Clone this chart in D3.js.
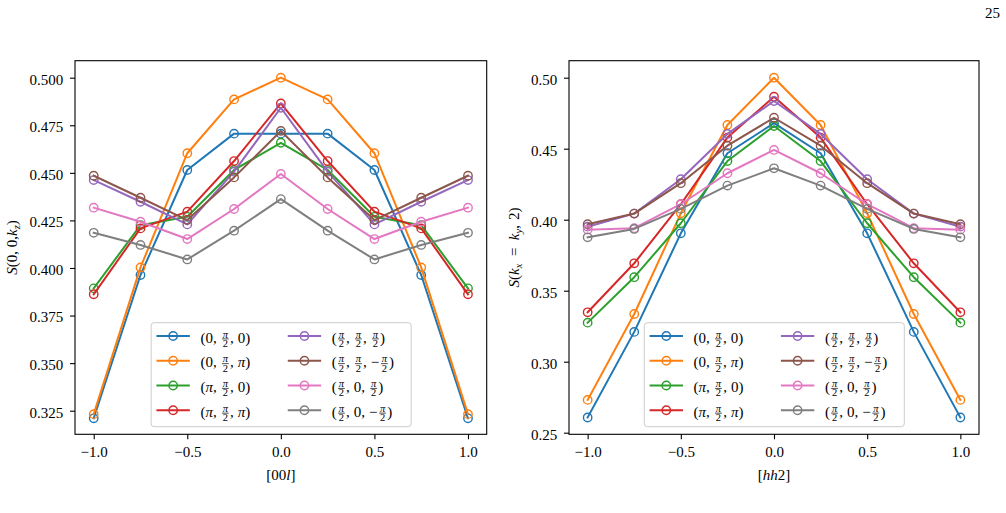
<!DOCTYPE html>
<html>
<head>
<meta charset="utf-8">
<script src="https://cdn.jsdelivr.net/npm/d3@7"></script>
<style>
  html, body { margin: 0; padding: 0; background: #fff; }
  svg text { font-family: "Liberation Serif", "DejaVu Serif", serif; fill: #000; }
</style>
</head>
<body>
<svg id="chart" width="1006" height="513"></svg>
<script>
// ---------------- data ----------------
const xValues = [-1.0, -0.75, -0.5, -0.25, 0.0, 0.25, 0.5, 0.75, 1.0];
const xTicks = [-1.0, -0.5, 0.0, 0.5, 1.0];
const leftYTicks = [0.325, 0.350, 0.375, 0.400, 0.425, 0.450, 0.475, 0.500];
const rightYTicks = [0.25, 0.30, 0.35, 0.40, 0.45, 0.50];

// legend labels: parts of the tuple; "f" = pi/2, "-f" = -pi/2, "π" = pi
const seriesLabels = [
  ["0", "f", "0"],
  ["0", "f", "π"],
  ["π", "f", "0"],
  ["π", "f", "π"],
  ["f", "f", "f"],
  ["f", "f", "-f"],
  ["f", "0", "f"],
  ["f", "0", "-f"]
];
const seriesColors = ["#1f77b4", "#ff7f0e", "#2ca02c", "#d62728", "#9467bd", "#8c564b", "#e377c2", "#7f7f7f"];

// left panel: S(0,0,kz) along [00l]
const left0 = [0.3210, 0.3963, 0.4515, 0.4706, 0.4706, 0.4706, 0.4515, 0.3963, 0.3210];
const left1 = [0.3232, 0.4003, 0.4603, 0.4886, 0.5000, 0.4886, 0.4603, 0.4003, 0.3232];
const left2 = [0.3893, 0.4225, 0.4269, 0.4515, 0.4658, 0.4515, 0.4269, 0.4225, 0.3893];
const left3 = [0.3862, 0.4208, 0.4296, 0.4562, 0.4865, 0.4562, 0.4296, 0.4208, 0.3862];
const left4 = [0.4462, 0.4348, 0.4229, 0.4506, 0.4842, 0.4506, 0.4229, 0.4348, 0.4462];
const left5 = [0.4485, 0.4369, 0.4252, 0.4476, 0.4720, 0.4476, 0.4252, 0.4369, 0.4485];
const left6 = [0.4317, 0.4243, 0.4152, 0.4310, 0.4494, 0.4310, 0.4152, 0.4243, 0.4317];
const left7 = [0.4185, 0.4121, 0.4045, 0.4196, 0.4362, 0.4196, 0.4045, 0.4121, 0.4185];

// right panel: S(kx=ky,2) along [hh2]
const right0 = [0.2607, 0.3210, 0.3904, 0.4468, 0.4680, 0.4468, 0.3904, 0.3210, 0.2607];
const right1 = [0.2731, 0.3336, 0.4045, 0.4667, 0.5000, 0.4667, 0.4045, 0.3336, 0.2731];
const right2 = [0.3275, 0.3595, 0.3975, 0.4413, 0.4660, 0.4413, 0.3975, 0.3595, 0.3275];
const right3 = [0.3348, 0.3693, 0.4109, 0.4578, 0.4866, 0.4578, 0.4109, 0.3693, 0.3348];
const right4 = [0.3951, 0.4043, 0.4285, 0.4604, 0.4836, 0.4604, 0.4285, 0.4043, 0.3951];
const right5 = [0.3968, 0.4043, 0.4257, 0.4521, 0.4718, 0.4521, 0.4257, 0.4043, 0.3968];
const right6 = [0.3930, 0.3940, 0.4109, 0.4327, 0.4491, 0.4327, 0.4109, 0.3940, 0.3930];
const right7 = [0.3876, 0.3935, 0.4076, 0.4240, 0.4362, 0.4240, 0.4076, 0.3935, 0.3876];

const leftSeries = [left0, left1, left2, left3, left4, left5, left6, left7];
const rightSeries = [right0, right1, right2, right3, right4, right5, right6, right7];

// ---------------- drawing ----------------
const FS = 15;
const svg = d3.select("#chart");
svg.append("rect").attr("width", 1006).attr("height", 513).attr("fill", "#fff");

// simple math-text renderer
function renderMath(parent, tokens, anchor) {
  const g = parent.append("g");
  let cx = 0;
  tokens.forEach(tok => {
    if (tok.frac) {
      const fs = FS * 0.7;
      cx += 1.2;
      const n = g.append("text").attr("y", -4.9).style("font-size", fs + "px")
        .style("font-style", "italic").text(tok.frac[0]);
      const d = g.append("text").attr("y", 4.3).style("font-size", fs + "px").text(tok.frac[1]);
      const wn = n.node().getComputedTextLength(), wd = d.node().getComputedTextLength();
      const w = Math.max(wn, wd) + 1.6;
      n.attr("x", cx + (w - wn) / 2);
      d.attr("x", cx + (w - wd) / 2);
      g.append("line").attr("x1", cx).attr("x2", cx + w).attr("y1", -3.6).attr("y2", -3.6)
        .attr("stroke", "#000").attr("stroke-width", 0.7);
      cx += w + 1.2;
    } else if (tok.sp) {
      cx += tok.sp;
    } else {
      const t = g.append("text").attr("x", cx).attr("y", tok.dy || 0)
        .style("font-size", (tok.fs || FS) + "px")
        .style("font-style", tok.i ? "italic" : "normal").text(tok.t);
      cx += t.node().getComputedTextLength() + (tok.after || 0);
    }
  });
  const dx = anchor === "middle" ? -cx / 2 : anchor === "end" ? -cx : 0;
  g.attr("transform", `translate(${dx},0)`);
  return g;
}

function labelTokens(parts) {
  const toks = [{ t: "(" }];
  parts.forEach((p, i) => {
    if (i > 0) toks.push({ t: ",", after: 4 });
    if (p === "f") toks.push({ frac: ["π", "2"] });
    else if (p === "-f") { toks.push({ t: "−", after: 0.5 }); toks.push({ frac: ["π", "2"] }); }
    else if (p === "π") toks.push({ t: "π", i: true });
    else toks.push({ t: p });
  });
  toks.push({ t: ")" });
  return toks;
}

function drawPanel(cfg) {
  const x = d3.scaleLinear().domain([-1.1, 1.1]).range([cfg.x0, cfg.x1]);
  const y = d3.scaleLinear().domain(cfg.yDomain).range([cfg.y1, cfg.y0]);
  const g = svg.append("g");

  // data series
  const line = d3.line().x((d, i) => x(xValues[i])).y(d => y(d));
  cfg.series.forEach((vals, si) => {
    const sg = g.append("g");
    sg.append("path").datum(vals).attr("d", line).attr("fill", "none")
      .attr("stroke", seriesColors[si]).attr("stroke-width", 2)
      .attr("stroke-linejoin", "round").attr("stroke-linecap", "square");
    sg.selectAll("circle").data(vals).join("circle")
      .attr("cx", (d, i) => x(xValues[i])).attr("cy", d => y(d)).attr("r", 4.2)
      .attr("fill", "none").attr("stroke", seriesColors[si]).attr("stroke-width", 1.4);
  });

  // axes
  const xa = g.append("g").attr("transform", `translate(0,${cfg.y1})`)
    .call(d3.axisBottom(x).tickValues(xTicks).tickFormat(d3.format(".1f")).tickSize(5).tickSizeOuter(0).tickPadding(7));
  const ya = g.append("g").attr("transform", `translate(${cfg.x0},0)`)
    .call(d3.axisLeft(y).tickValues(cfg.yTicks).tickFormat(d3.format(cfg.yFmt)).tickSize(5).tickSizeOuter(0).tickPadding(6.7));
  [xa, ya].forEach(a => {
    a.attr("font-family", null).attr("font-size", null);
    a.select(".domain").remove();
    a.selectAll(".tick line").attr("stroke", "#000").attr("stroke-width", 1.1);
    a.selectAll(".tick text").style("font-size", FS + "px").attr("fill", "#000")
      .style("font-family", "'Liberation Serif', 'DejaVu Serif', serif");
  });
  ya.selectAll(".tick text").attr("dy", "0.42em");

  // spines
  g.append("rect").attr("x", cfg.x0).attr("y", cfg.y0)
    .attr("width", cfg.x1 - cfg.x0).attr("height", cfg.y1 - cfg.y0)
    .attr("fill", "none").attr("stroke", "#000").attr("stroke-width", 1.1);

  // x label
  const xl = g.append("g").attr("transform", `translate(${(cfg.x0 + cfg.x1) / 2},479.5)`);
  renderMath(xl, cfg.xLabel, "middle");

  // y label
  const yl = g.append("g").attr("transform", `translate(${cfg.yLabelX},${(cfg.y0 + cfg.y1) / 2}) rotate(-90)`);
  renderMath(yl, cfg.yLabel, "middle");

  // legend
  const lw = 260, lh = 104;
  const lx = (cfg.x0 + cfg.x1) / 2 - lw / 2 + 0.3;
  const ly = cfg.y1 - 7.6 - lh;
  const lg = g.append("g").attr("transform", `translate(${lx},${ly})`);
  lg.append("rect").attr("width", lw).attr("height", lh).attr("rx", 3).attr("ry", 3)
    .attr("fill", "#fff").attr("fill-opacity", 0.8).attr("stroke", "#cccccc").attr("stroke-width", 1);
  seriesLabels.forEach((lab, i) => {
    const col = Math.floor(i / 4), row = i % 4;
    const hx = 5.3 + col * 131.3;
    const ry = 13.3 + row * 24.75;
    const eg = lg.append("g").attr("transform", `translate(${hx},${ry})`);
    eg.append("line").attr("x1", 0).attr("x2", 33.4).attr("y1", 0).attr("y2", 0)
      .attr("stroke", seriesColors[i]).attr("stroke-width", 2);
    eg.append("circle").attr("cx", 16.7).attr("cy", 0).attr("r", 4.2).attr("fill", "none")
      .attr("stroke", seriesColors[i]).attr("stroke-width", 1.4);
    const tg = eg.append("g").attr("transform", `translate(44,6.5)`);
    renderMath(tg, labelTokens(lab), "start");
  });
}

drawPanel({
  x0: 75, x1: 486.7, y0: 60.7, y1: 434.3,
  yDomain: [0.3126, 0.50893], yTicks: leftYTicks, yFmt: ".3f",
  series: leftSeries,
  xLabel: [{ t: "[00" }, { t: "l", i: true }, { t: "]" }],
  yLabel: [{ t: "S", i: true }, { t: "(0, 0, " }, { t: "k", i: true }, { t: "z", i: true, fs: 10.5, dy: 2.5 }, { t: ")" }],
  yLabelX: 17
});

drawPanel({
  x0: 569, x1: 979, y0: 60.7, y1: 434.3,
  yDomain: [0.24887, 0.51197], yTicks: rightYTicks, yFmt: ".2f",
  series: rightSeries,
  xLabel: [{ t: "[" }, { t: "hh", i: true }, { t: "2]" }],
  yLabel: [{ t: "S", i: true }, { t: "(" }, { t: "k", i: true }, { t: "x", i: true, fs: 10.5, dy: 2.5, after: 7.5 },
           { t: "=", after: 7.5 }, { t: "k", i: true }, { t: "y", i: true, fs: 10.5, dy: 2.5 }, { t: ",", after: 5 }, { t: "2)" }],
  yLabelX: 519
});

// page number
svg.append("text").attr("x", 1000).attr("y", 18).attr("text-anchor", "end")
  .style("font-size", FS + "px").text("25");
</script>
</body>
</html>
